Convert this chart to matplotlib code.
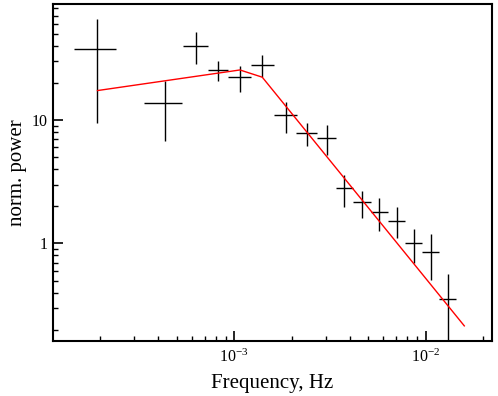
import numpy as np
import matplotlib
matplotlib.use('Agg')
import matplotlib.pyplot as plt
from matplotlib.ticker import FuncFormatter, LogLocator, NullFormatter

# power spectrum points (frequency bins)
freq = [1.93e-4, 4.35e-4, 6.31e-4, 8.22e-4, 1.07e-3, 1.40e-3, 1.86e-3, 2.39e-3,
        3.04e-3, 3.74e-3, 4.64e-3, 5.70e-3, 7.08e-3, 8.69e-3, 1.067e-2, 1.307e-2]
freq_lo = [1.46e-4, 3.38e-4, 5.40e-4, 7.29e-4, 9.27e-4, 1.22e-3, 1.61e-3, 2.10e-3,
           2.69e-3, 3.40e-3, 4.17e-3, 5.18e-3, 6.35e-3, 7.80e-3, 9.57e-3, 1.175e-2]
freq_hi = [2.41e-4, 5.33e-4, 7.29e-4, 9.27e-4, 1.22e-3, 1.61e-3, 2.12e-3, 2.69e-3,
           3.40e-3, 4.17e-3, 5.18e-3, 6.35e-3, 7.80e-3, 9.57e-3, 1.173e-2, 1.439e-2]
power = [37.6, 13.7, 40.0, 25.2, 22.4, 27.7, 10.98, 7.89,
         7.19, 2.81, 2.17, 1.80, 1.52, 1.01, 0.853, 0.357]
power_hi = [65.8, 20.7, 51.6, 30.1, 27.4, 33.6, 14.1, 9.51,
            9.11, 3.59, 2.66, 2.33, 1.98, 1.31, 1.19, 0.566]
power_lo = [9.46, 6.76, 28.4, 20.7, 16.9, 22.2, 7.8, 6.16,
            5.21, 1.98, 1.61, 1.26, 1.11, 0.695, 0.506, 0.1]

# broken power law model
model_freq = [1.93e-4, 1.07e-3, 1.40e-3, 1.59e-2]
model_power = [17.3, 25.4, 22.2, 0.215]

plt.rcParams['font.family'] = ['Liberation Serif', 'DejaVu Serif']
plt.rcParams['mathtext.fontset'] = 'stix'

fig = plt.figure(figsize=(4.98, 3.96), dpi=100)
ax = fig.add_axes([0.1064, 0.1396, 0.8809, 0.8503])

f = np.array(freq)
p = np.array(power)
xerr = [f - np.array(freq_lo), np.array(freq_hi) - f]
yerr = [p - np.array(power_lo), np.array(power_hi) - p]
ax.errorbar(f, p, xerr=xerr, yerr=yerr, fmt='none', ecolor='black',
            elinewidth=1.0, capsize=0)

ax.plot(model_freq, model_power, color='red', lw=1.0)

ax.set_xscale('log')
ax.set_yscale('log')
ax.set_xlim(1.13e-4, 2.21e-2)
ax.set_ylim(0.163, 86.9)

ax.yaxis.set_major_formatter(FuncFormatter(lambda v, _: f'{v:g}'))
ax.yaxis.set_minor_formatter(NullFormatter())
ax.xaxis.set_minor_locator(LogLocator(base=10, subs=np.arange(2, 10)))
ax.xaxis.set_minor_formatter(NullFormatter())

ax.tick_params(which='both', direction='in', top=False, right=False, labelsize=11.5)
ax.tick_params(which='major', length=7, width=1.2)
ax.tick_params(which='minor', length=3.5, width=1.0)
ax.tick_params(axis='x', which='major', pad=5.5)
for s in ax.spines.values():
    s.set_linewidth(1.5)

ax.set_xlabel('Frequency, Hz', fontsize=15, labelpad=6)
ax.set_ylabel('norm. power', fontsize=15)

fig.savefig('out.png', dpi=100)
